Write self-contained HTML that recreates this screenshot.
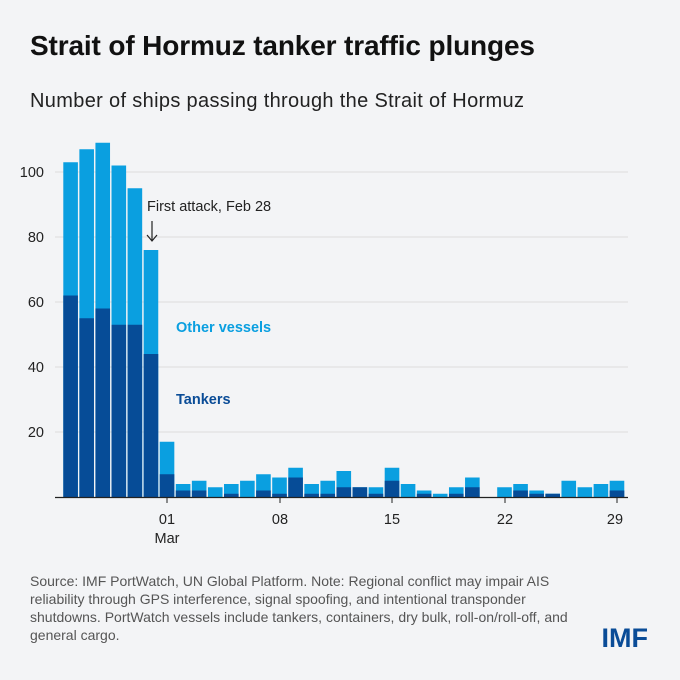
<!DOCTYPE html>
<html><head><meta charset="utf-8"><style>
body{margin:0;background:#f3f4f6;}
.w{position:relative;width:680px;height:680px;background:#f3f4f6;font-family:"Liberation Sans",sans-serif;overflow:hidden}
</style></head><body><div class="w">
<svg width="680" height="680" xmlns="http://www.w3.org/2000/svg" style="position:absolute;left:0;top:0">
<text x="30" y="55" font-size="28" font-weight="bold" fill="#111" font-family="Liberation Sans" textLength="505">Strait of Hormuz tanker traffic plunges</text>
<text x="30" y="107" font-size="20" fill="#222" font-family="Liberation Sans" textLength="494">Number of ships passing through the Strait of Hormuz</text>
<g stroke="#dcdcdc" stroke-width="1">
<line x1="55" x2="628" y1="432" y2="432"/><line x1="55" x2="628" y1="367" y2="367"/>
<line x1="55" x2="628" y1="302" y2="302"/><line x1="55" x2="628" y1="237" y2="237"/>
<line x1="55" x2="628" y1="172" y2="172"/></g>
<g font-size="14.5" fill="#222" text-anchor="end" font-family="Liberation Sans">
<text x="44" y="437">20</text><text x="44" y="372">40</text><text x="44" y="307">60</text><text x="44" y="242">80</text><text x="44" y="177">100</text></g>
<g id="bars"></g>
<line x1="55" x2="628" y1="497.5" y2="497.5" stroke="#222" stroke-width="1.2"/>
<g stroke="#222"><line x1="167" x2="167" y1="497" y2="503"/><line x1="280" x2="280" y1="497" y2="503"/><line x1="392" x2="392" y1="497" y2="503"/><line x1="505" x2="505" y1="497" y2="503"/><line x1="617" x2="617" y1="497" y2="503"/></g>
<g font-size="14.5" fill="#222" text-anchor="middle" font-family="Liberation Sans">
<text x="167" y="524">01</text><text x="167" y="543">Mar</text><text x="280" y="524">08</text><text x="392" y="524">15</text><text x="505" y="524">22</text><text x="615" y="524">29</text></g>
<text x="147" y="211" font-size="14.5" fill="#222" font-family="Liberation Sans">First attack, Feb 28</text>
<line x1="152" y1="221" x2="152" y2="240" stroke="#222" stroke-width="1.2"/>
<path d="M147 235 L152 241 L157 235" fill="none" stroke="#222" stroke-width="1.2"/>
<text x="176" y="332" font-size="14.5" font-weight="bold" fill="#0a9fe0" font-family="Liberation Sans">Other vessels</text>
<text x="176" y="404" font-size="14.5" font-weight="bold" fill="#0a4c97" font-family="Liberation Sans">Tankers</text>
<g font-size="14" fill="#555" font-family="Liberation Sans">
<text x="30" y="586">Source: IMF PortWatch, UN Global Platform. Note: Regional conflict may impair AIS</text>
<text x="30" y="604">reliability through GPS interference, signal spoofing, and intentional transponder</text>
<text x="30" y="622">shutdowns. PortWatch vessels include tankers, containers, dry bulk, roll-on/roll-off, and</text>
<text x="30" y="640">general cargo.</text></g>
<text x="648" y="647" font-size="27" font-weight="bold" fill="#0a4c97" text-anchor="end" font-family="Liberation Sans">IMF</text>
</svg>
<script>
var d=[[103,62],[107,55],[109,58],[102,53],[95,53],[76,44],[17,7],[4,2],[5,2],[3,0],[4,1],[5,0],[7,2],[6,1],[9,6],[4,1],[5,1],[8,3],[3,3],[3,1],[9,5],[4,0],[2,1],[1,0],[3,1],[6,3],[0,0],[3,0],[4,2],[2,1],[1,1],[5,0],[3,0],[4,0],[5,2]];
var g=document.getElementById('bars'),s='',k=3.25,b=497;
d.forEach(function(v,i){var c=70.6+i*16.07,x=c-7.3;
if(v[0]>0)s+='<rect x="'+x+'" y="'+(b-v[0]*k)+'" width="14.6" height="'+(v[0]*k)+'" fill="#0a9fe0"/>';
if(v[1]>0)s+='<rect x="'+x+'" y="'+(b-v[1]*k)+'" width="14.6" height="'+(v[1]*k)+'" fill="#064c97"/>';});
g.innerHTML=s;
</script>
</div></body></html>
